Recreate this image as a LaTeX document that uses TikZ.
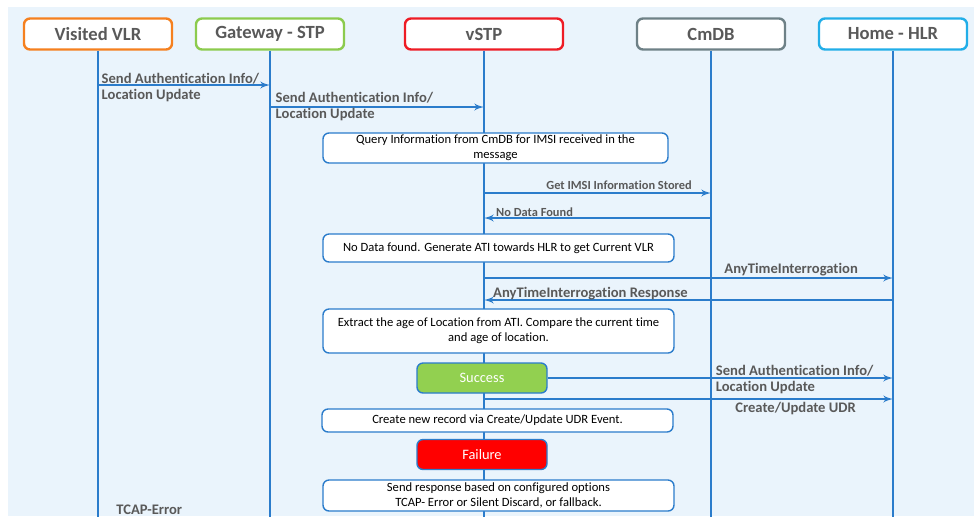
\documentclass[tikz,border=0pt]{standalone}
\usepackage{fontspec}
\setmainfont{Carlito}[Ligatures=NoCommon]
\usetikzlibrary{arrows,positioning}

\definecolor{bgblue}{HTML}{EAF4FC}
\definecolor{lifeblue}{HTML}{2B7CCB}
\definecolor{txtgray}{HTML}{595959}
\definecolor{vlrcol}{HTML}{F5801F}
\definecolor{gwcol}{HTML}{8CCB4E}
\definecolor{stpcol}{HTML}{EE1C25}
\definecolor{dbcol}{HTML}{6E8187}
\definecolor{hlrcol}{HTML}{22AEE8}
\definecolor{okgreen}{HTML}{92D050}
\definecolor{failred}{HTML}{FF0000}

\newcommand{\msgfont}{\bfseries\fontsize{7.3}{8}\selectfont}
\newcommand{\smallmsgfont}{\bfseries\fontsize{6.2}{7}\selectfont}
\newcommand{\boxfont}{\fontsize{6.3}{7.5}\selectfont}

\begin{document}
\begin{tikzpicture}[x=0.5pt,y=-0.5pt,>=latex']
  \tikzstyle{head}=[draw,line width=1.2pt,rounded corners=3pt,fill=white,minimum width=74pt,minimum height=15.5pt,inner sep=0pt,text=txtgray,font=\bfseries\fontsize{9.3}{11}\selectfont]
  \tikzstyle{life}=[draw=lifeblue,line width=0.9pt]
  \tikzstyle{msg}=[->,draw=lifeblue,line width=0.7pt]
  \tikzstyle{lbl}=[text=txtgray,font=\msgfont,align=left,inner sep=1.5pt]
  \tikzstyle{note}=[draw=lifeblue,line width=0.7pt,rounded corners=3pt,fill=white,font=\boxfont,align=center,inner sep=0pt,minimum width=175.5pt]
  \tikzstyle{result}=[note,minimum width=65pt,minimum height=15pt,font=\fontsize{7.2}{8}\selectfont,text=white]

  \useasboundingbox (0,0) rectangle (974,516);
  \clip (0,0) rectangle (974,516);
  \fill[bgblue] (8,7) rectangle (974,516);

  % participants
  \node[head,draw=vlrcol] (VLR) at (98,34) {Visited VLR};
  \node[head,draw=gwcol] (GW) at (270,34) {Gateway - STP};
  \node[head,draw=stpcol,minimum width=79pt] (STP) at (484,34) {vSTP};
  \node[head,draw=dbcol] (DB) at (711,34) {CmDB};
  \node[head,draw=hlrcol] (HLR) at (893,34) {Home - HLR};

  % lifelines
  \coordinate (bottom) at (0,520);
  \foreach \p in {VLR,GW,STP,DB,HLR}
    \draw[life] (\p.south) -- (\p |- bottom);

  % message levels
  \coordinate (m1) at (0,85);
  \coordinate (m2) at (0,107);
  \coordinate (m3) at (0,193);
  \coordinate (m4) at (0,218);
  \coordinate (m5) at (0,278);
  \coordinate (m6) at (0,300);
  \coordinate (m8) at (0,399);

  % notes on vSTP
  \node[note,minimum width=172.5pt,minimum height=15pt] (query) at (495.5,148) {Query Information from CmDB for IMSI received in the\\message};
  \node[note,minimum height=14pt] (noData) at (498.5,248) {No Data found. Generate ATI towards HLR to get Current VLR};
  \node[note,minimum height=22pt] (age) at (498.5,331) {Extract the age of Location from ATI. Compare the current time\\and age of location.};
  \node[result,fill=okgreen] (ok) at (482,378) {Success};
  \node[note,minimum height=11.5pt] (udr) at (497.5,420.5) {Create new record via Create/Update UDR Event.};
  \node[result,fill=failred] (fail) at (482,454.5) {Failure};
  \node[note,minimum height=15.5pt] (resp) at (498.5,495.5) {Send response based on configured options\\TCAP- Error or Silent Discard, or fallback.};

  \path (VLR |- m1) edge[msg] node[lbl,pos=0,anchor=west,yshift=-1.5pt] {Send Authentication Info/\\Location Update} (GW |- m1)
        (GW |- m2)  edge[msg] node[lbl,pos=0,anchor=west,xshift=1pt] {Send Authentication Info/\\Location Update} (STP |- m2)
        (STP |- m3) edge[msg] node[lbl,font=\smallmsgfont,pos=1,anchor=south east,xshift=-7.75pt] {Get IMSI Information Stored} (DB |- m3)
        (DB |- m4)  edge[msg] node[lbl,font=\smallmsgfont,pos=1,anchor=south west,xshift=4.25pt,yshift=-1pt] {No Data Found} (STP |- m4)
        (STP |- m5) edge[msg] node[lbl,pos=1,anchor=south east,xshift=-15.75pt,yshift=-1pt] {AnyTimeInterrogation} (HLR |- m5)
        (HLR |- m6) edge[msg] node[lbl,pos=1,anchor=south west,xshift=2.75pt,yshift=-2pt] {AnyTimeInterrogation Response} (STP |- m6)
        (ok.east)   edge[msg] node[lbl,pos=1,anchor=east,xshift=-8pt,yshift=-1pt] {Send Authentication Info/\\Location Update} (HLR |- ok.east)
        (STP |- m8) edge[msg] node[lbl,pos=1,anchor=north east,xshift=-16.75pt] {Create/Update UDR} (HLR |- m8);

  \node[lbl,anchor=base west] (tcap) at (113,514) {TCAP-Error};
\end{tikzpicture}
\end{document}
